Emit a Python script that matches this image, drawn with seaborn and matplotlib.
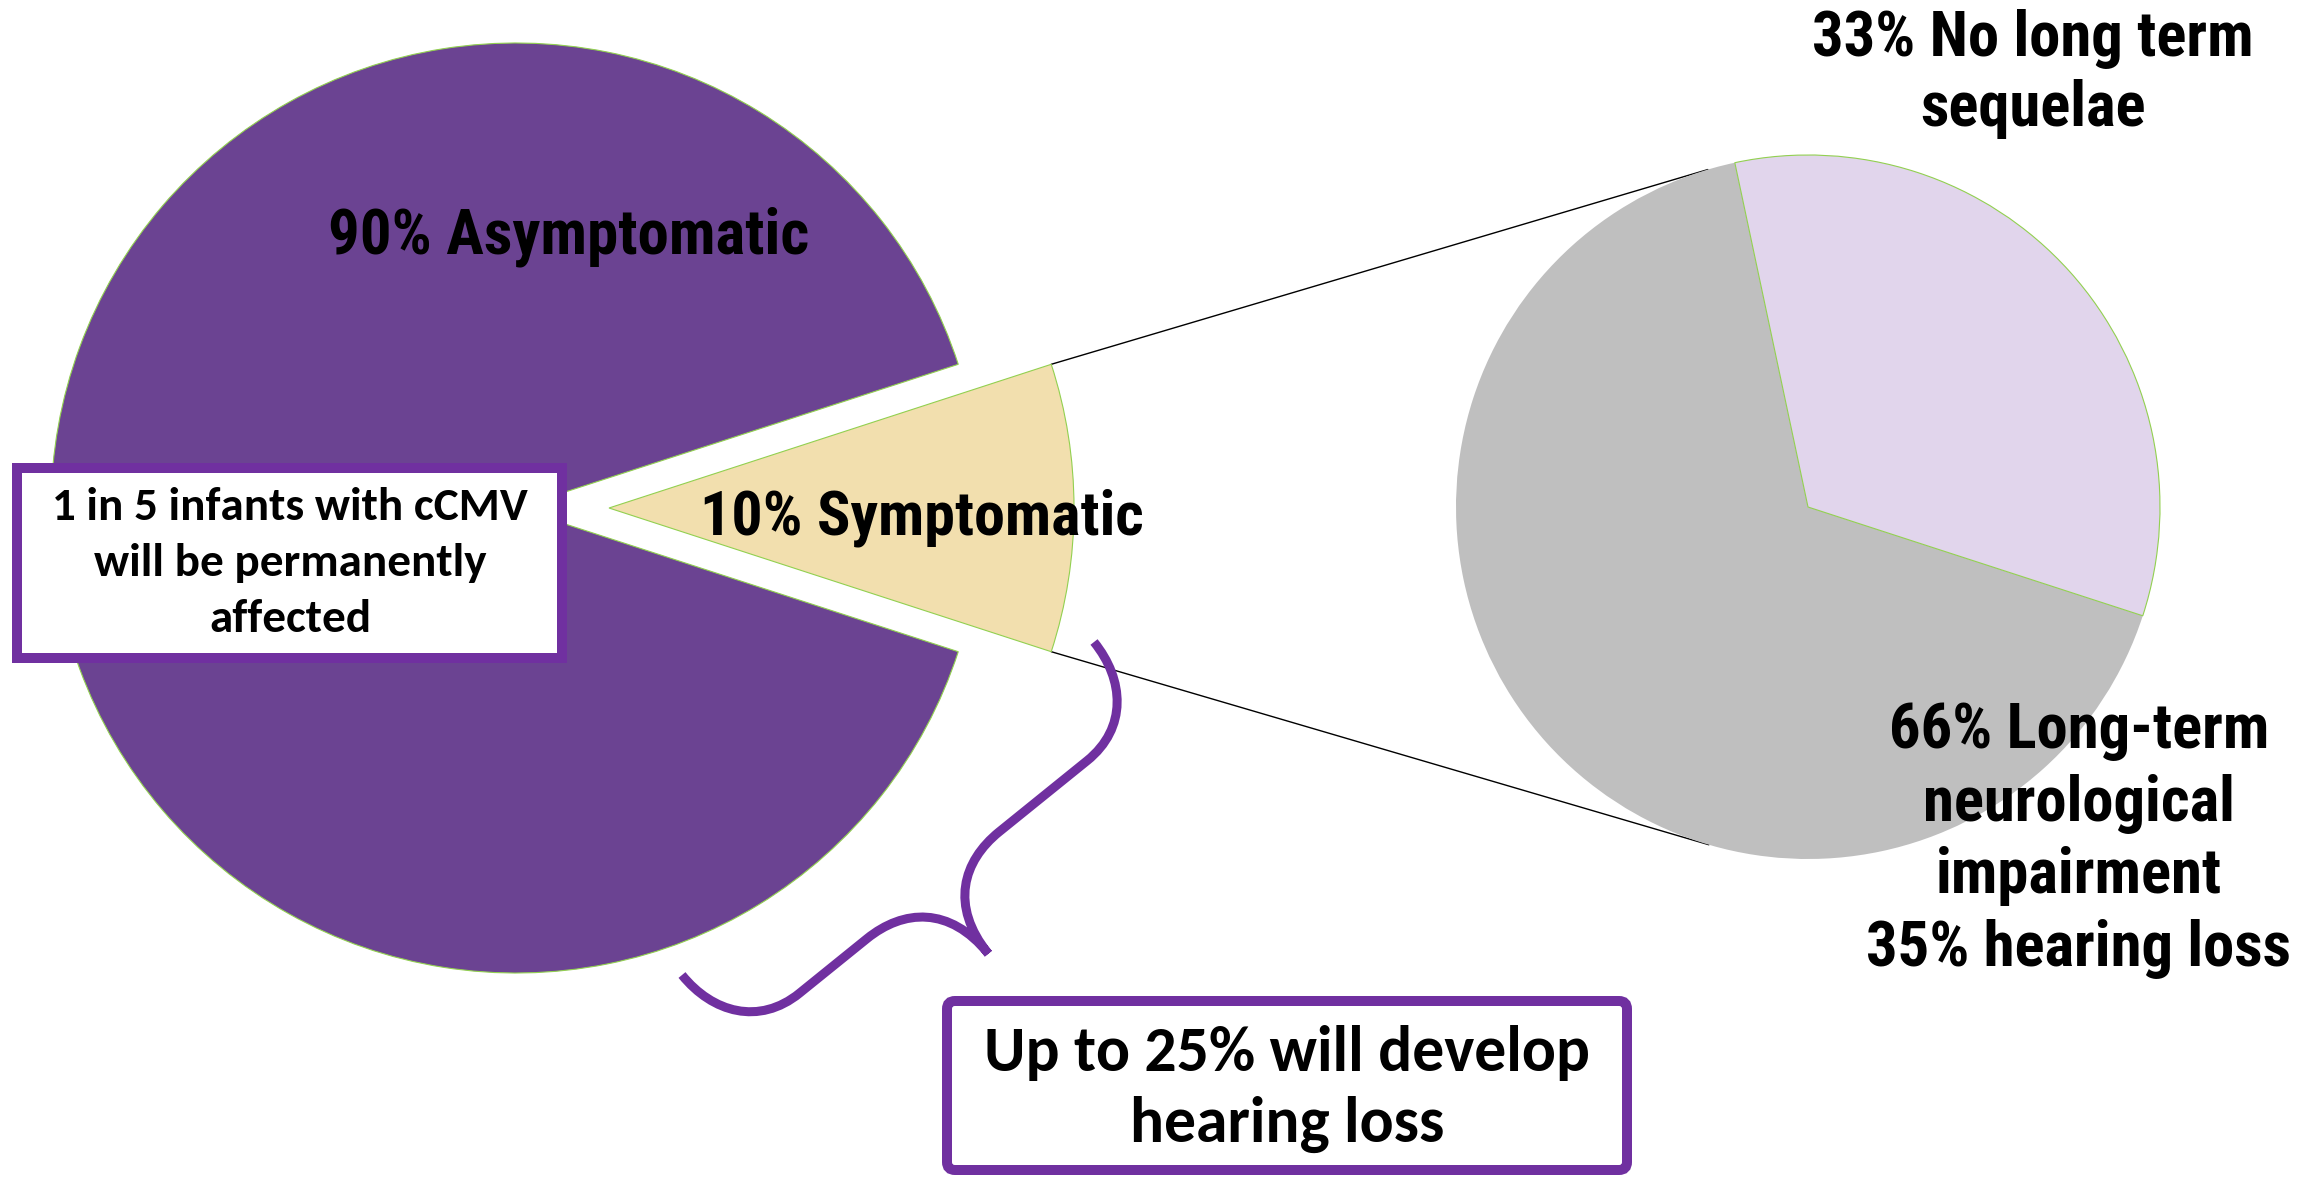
import numpy as np
import matplotlib
matplotlib.use("Agg")
import matplotlib.pyplot as plt
from matplotlib.patches import Rectangle, FancyBboxPatch, PathPatch
from matplotlib.path import Path
import seaborn as sns

# Congenital CMV outcomes (percent of infected infants)
outer_labels = ["Symptomatic", "Asymptomatic"]
outer_values = [10, 90]
inner_labels = ["No long term\nsequelae", "Long-term\nneurological\nimpairment"]
inner_values = [33, 66]
symptomatic_hearing_loss = 35
overall_hearing_loss = 25
permanently_affected = "1 in 5"

W, H = 2320, 1178
sns.set_theme(style="white")
LABEL_FONT = ["Roboto Condensed", "Liberation Sans", "DejaVu Sans"]
BOX_FONT = ["Carlito", "DejaVu Sans"]
plt.rcParams["font.family"] = LABEL_FONT

fig = plt.figure(figsize=(W / 100, H / 100), dpi=100)
ax = fig.add_axes([0, 0, 1, 1])

outer_colors = sns.color_palette(["#F2DFAE", "#6B4392"])
inner_colors = sns.color_palette(["#E1D5EC", "#BFBFBF"])
EDGE = "#92D050"
ACCENT = "#7030A0"


def Y(y):
    """Flip a top-down pixel row into the axes' bottom-up frame."""
    return H - y


left_center, left_r = (516, Y(508)), 465
right_center, right_r = (1808, Y(507)), 352

# pie() shifts exploded wedges in data units, so scale by the radius
wl, _ = ax.pie(outer_values, explode=[0.2 * left_r, 0], colors=outer_colors,
               startangle=-18, counterclock=True, radius=left_r,
               center=left_center,
               wedgeprops=dict(edgecolor=EDGE, linewidth=0.8))
wr, _ = ax.pie(inner_values, colors=inner_colors, startangle=-18,
               counterclock=True, radius=right_r, center=right_center,
               wedgeprops=dict(edgecolor=EDGE, linewidth=0.8))
wr[1].set_edgecolor("none")
wr[0].set_zorder(wr[1].get_zorder() + 0.1)


def tangent_point(p, c, r, upper):
    d = np.subtract(p, c)
    dist = np.hypot(*d)
    base = np.arctan2(d[1], d[0])
    alpha = np.arccos(r / dist)
    pts = [np.asarray(c) + r * np.array([np.cos(a), np.sin(a)])
           for a in (base - alpha, base + alpha)]
    return max(pts, key=lambda q: q[1]) if upper else min(pts, key=lambda q: q[1])


# connector lines from the symptomatic slice to the breakdown pie
sym = wl[0]
for theta, upper in ((sym.theta2, True), (sym.theta1, False)):
    t = np.deg2rad(theta)
    p = np.asarray(sym.center) + sym.r * np.array([np.cos(t), np.sin(t)])
    q = tangent_point(p, right_center, right_r, upper)
    ax.plot([p[0], q[0]], [p[1], q[1]], color="black", lw=1.0, zorder=0.5)


def fit(txt, target_w):
    fig.canvas.draw()
    r = fig.canvas.get_renderer()
    for _ in range(3):
        bb = txt.get_window_extent(renderer=r)
        txt.set_fontsize(txt.get_fontsize() * target_w / bb.width)


label_kw = dict(ha="center", va="center", fontweight="bold", color="black",
                family=LABEL_FONT, fontsize=40, zorder=5)

t1 = ax.text(569, Y(237), f"{outer_values[1]}% {outer_labels[1]}", **label_kw)
t2 = ax.text(922, Y(518), f"{outer_values[0]}% {outer_labels[0]}", **label_kw)
t3 = ax.text(2033, Y(74), f"{inner_values[0]}% {inner_labels[0]}",
             linespacing=1.2, **label_kw)
t4 = ax.text(2079, Y(840),
             f"{inner_values[1]}% {inner_labels[1]}\n"
             f"{symptomatic_hearing_loss}% hearing loss",
             linespacing=1.27, **label_kw)

# call-out boxes
ax.add_patch(Rectangle((17, Y(658)), 545, 190, facecolor="white",
                       edgecolor=ACCENT, lw=7.2, zorder=6))
t5 = ax.text(290, Y(563),
             f"{permanently_affected} infants with cCMV\nwill be permanently\naffected",
             ha="center", va="center", fontweight="bold", family=BOX_FONT,
             fontsize=28, linespacing=1.5, color="black", zorder=7)

ax.add_patch(FancyBboxPatch((947, Y(1170)), 680, 169,
                            boxstyle="round,pad=0,rounding_size=8",
                            facecolor="white", edgecolor=ACCENT, lw=7.2,
                            zorder=6))
t6 = ax.text(1287, Y(1089),
             f"Up to {overall_hearing_loss}% will develop\nhearing loss",
             ha="center", va="center", fontweight="bold", family=BOX_FONT,
             fontsize=36, linespacing=1.33, color="black", zorder=7)

fit(t1, 481)
fit(t2, 444)
fit(t3, 442)
fit(t4, 425)
fit(t5, 476)
fit(t6, 607)


# curly brace linking the asymptomatic slice to the hearing-loss box
def brace(a, b, h, tip_frac=0.475, arm=80, knee=85):
    a = np.asarray(a, float)
    b = np.asarray(b, float)
    L = np.hypot(*(b - a))
    u = (b - a) / L
    n = np.array([u[1], -u[0]])
    m = tip_frac * L
    local = [
        (Path.MOVETO, (0, 0)),
        (Path.CURVE4, (0, 0.55 * h)), (Path.CURVE4, (0.35 * arm, h)), (Path.CURVE4, (arm, h)),
        (Path.LINETO, (m - knee, h)),
        (Path.CURVE4, (m - 0.45 * knee, h)), (Path.CURVE4, (m, 1.3 * h)), (Path.CURVE4, (m, 2 * h)),
        (Path.CURVE4, (m, 1.3 * h)), (Path.CURVE4, (m + 0.45 * knee, h)), (Path.CURVE4, (m + knee, h)),
        (Path.LINETO, (L - arm, h)),
        (Path.CURVE4, (L - 0.35 * arm, h)), (Path.CURVE4, (L, 0.55 * h)), (Path.CURVE4, (L, 0)),
    ]
    codes = [c for c, _ in local]
    verts = [a + s * u + t * n for _, (s, t) in local]
    return Path(verts, codes)


ax.add_patch(PathPatch(brace((682, Y(975)), (1094, Y(642)), 88),
                       facecolor="none", edgecolor=ACCENT, lw=6.5,
                       capstyle="butt", joinstyle="miter", zorder=4))

ax.set_xlim(0, W)
ax.set_ylim(0, H)
ax.set_aspect("equal")
ax.axis("off")
fig.savefig("out.png", dpi=100)
